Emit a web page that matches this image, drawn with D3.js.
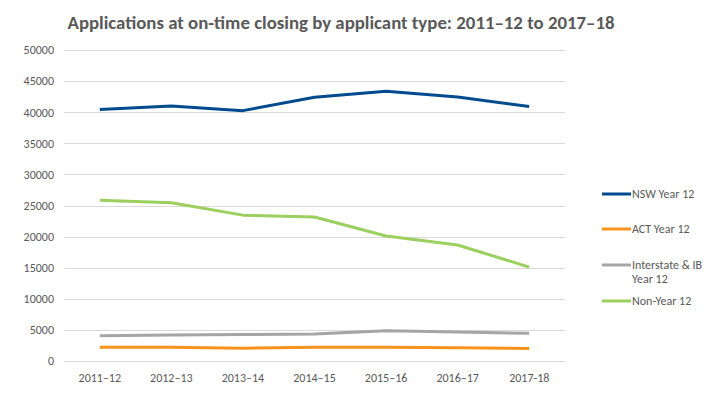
<!DOCTYPE html>
<html>
<head>
<meta charset="utf-8">
<script src="https://cdn.jsdelivr.net/npm/d3@7"></script>
<style>
  body { margin: 0; background: #fff; }
  svg text { font-family: Calibri, Carlito, "Open Sans", sans-serif; fill: #595959; }
</style>
</head>
<body>
<script>
// data
const years = ["2011–12", "2012–13", "2013–14", "2014–15", "2015–16", "2016–17", "2017-18"];
const nswYear12 = [40450, 41000, 40250, 42400, 43350, 42450, 40900];
const actYear12 = [2200, 2200, 2050, 2200, 2200, 2150, 2000];
const interstateYear12 = [4050, 4200, 4250, 4350, 4850, 4650, 4450];
const nonYear12 = [25850, 25450, 23450, 23150, 20100, 18650, 15100];
const yTicks = [0, 5000, 10000, 15000, 20000, 25000, 30000, 35000, 40000, 45000, 50000];

const series = [
  {name: ["NSW Year 12"], values: nswYear12, color: "#004b8d"},
  {name: ["ACT Year 12"], values: actYear12, color: "#f7941d"},
  {name: ["Interstate & IB", "Year 12"], values: interstateYear12, color: "#a5a5a5"},
  {name: ["Non-Year 12"], values: nonYear12, color: "#9bcf5e"}
];

const width = 716, height = 398;
const margin = {left: 64, right: 151, top: 50, bottom: 37};
const fontStack = "Calibri, Carlito, 'Open Sans', sans-serif";

const svg = d3.select("body").append("svg")
  .attr("width", width)
  .attr("height", height);

const x = d3.scaleBand()
  .domain(years)
  .range([margin.left, width - margin.right]);

const y = d3.scaleLinear()
  .domain([0, 50000])
  .range([height - margin.bottom, margin.top]);

// title
svg.append("text")
  .attr("x", 341)
  .attr("y", 29)
  .attr("text-anchor", "middle")
  .attr("font-size", 18.5)
  .attr("font-weight", "bold")
  .attr("textLength", 547)
  .attr("lengthAdjust", "spacingAndGlyphs")
  .text("Applications at on-time closing by applicant type: 2011–12 to 2017–18");

// gridlines
svg.append("g")
  .selectAll("line")
  .data(yTicks)
  .enter().append("line")
  .attr("x1", margin.left)
  .attr("x2", width - margin.right)
  .attr("y1", d => Math.round(y(d)) + 0.5)
  .attr("y2", d => Math.round(y(d)) + 0.5)
  .attr("stroke", "#d9d9d9")
  .attr("stroke-width", 1);

// y axis
const yAxis = svg.append("g")
  .attr("transform", `translate(${margin.left - 10},0)`)
  .call(d3.axisLeft(y).tickValues(yTicks).tickSize(0).tickPadding(0).tickFormat(d3.format("d")));
yAxis.select(".domain").remove();
yAxis.selectAll("text").attr("font-size", 12).attr("fill", "#595959").style("font-family", fontStack);

// x axis
const xAxis = svg.append("g")
  .attr("transform", `translate(0,${height - margin.bottom + 10})`)
  .call(d3.axisBottom(x).tickSize(0).tickPadding(2));
xAxis.select(".domain").remove();
xAxis.selectAll("text").attr("font-size", 12).attr("fill", "#595959").style("font-family", fontStack);

// lines
const line = d3.line()
  .x((d, i) => x(years[i]) + x.bandwidth() / 2)
  .y(d => y(d));

svg.append("g")
  .selectAll("path")
  .data(series)
  .enter().append("path")
  .attr("d", d => line(d.values))
  .attr("fill", "none")
  .attr("stroke", d => d.color)
  .attr("stroke-width", 3)
  .attr("stroke-linejoin", "round");

// legend
const legendY = [194, 229, 265, 301];
const legend = svg.append("g")
  .selectAll("g")
  .data(series)
  .enter().append("g")
  .attr("transform", (d, i) => `translate(602,${legendY[i]})`);

legend.append("line")
  .attr("x1", 0)
  .attr("x2", 29)
  .attr("stroke", d => d.color)
  .attr("stroke-width", 3);

legend.append("text")
  .attr("x", 30)
  .attr("y", 4)
  .attr("font-size", 12)
  .selectAll("tspan")
  .data(d => d.name)
  .enter().append("tspan")
  .attr("x", 30)
  .attr("dy", (d, i) => i === 0 ? 0 : 14)
  .text(d => d);
</script>
</body>
</html>
